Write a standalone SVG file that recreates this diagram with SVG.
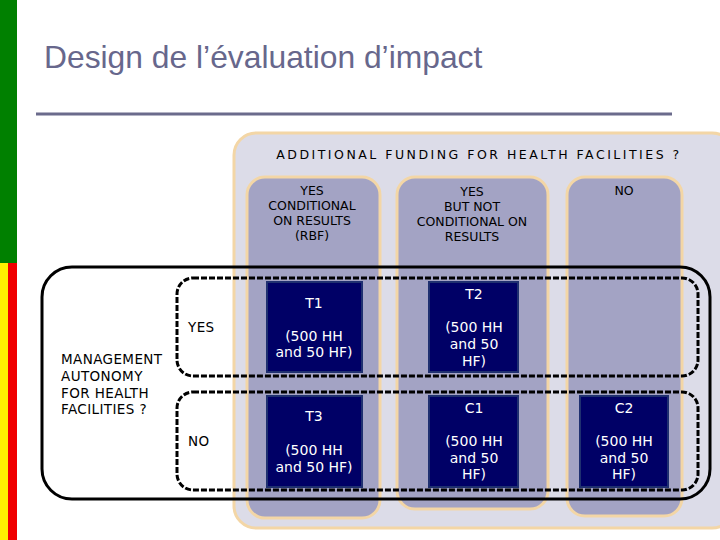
<svg xmlns="http://www.w3.org/2000/svg" width="720" height="540" viewBox="0 0 720 540">
<style>
.t{font-family:"DejaVu Sans",Verdana,sans-serif;font-size:12.5px;fill:#000}
.l{font-size:13.5px;letter-spacing:0.4px}
.w{font-family:"DejaVu Sans",Verdana,sans-serif;font-size:14px;fill:#fff;text-anchor:middle}
.c{text-anchor:middle}
.col{fill:#A3A3C4;stroke:#F3D6A6;stroke-width:3}
.box{fill:#000066;stroke:#1F3070;stroke-width:2}
.dash{fill:none;stroke:#000;stroke-width:3;stroke-dasharray:6 2}
</style>
<rect width="720" height="540" fill="#fff"/>
<rect x="0" y="0" width="17" height="263" fill="#008000"/>
<rect x="0" y="263" width="8" height="277" fill="#FFF200"/>
<rect x="8" y="263" width="9" height="277" fill="#F00000"/>
<text x="44" y="68" font-family="Liberation Sans,Arial,sans-serif" font-size="31.8" fill="#67678C">Design de l’évaluation d’impact</text>
<line x1="36" y1="114" x2="672" y2="114" stroke="#6B6B8C" stroke-width="3"/>
<g id="panel">
<rect x="234" y="133" width="500" height="395" rx="22" fill="#DCDCE8" stroke="#F3D6A6" stroke-width="3"/>
<text class="t c" x="479" y="159" font-size="15.5" letter-spacing="2.5">ADDITIONAL FUNDING FOR HEALTH FACILITIES ?</text>
</g>
<g id="col1">
<rect class="col" x="247" y="177" width="133" height="341" rx="18"/>
<text class="t c" x="312" y="195">YES</text>
<text class="t c" x="312" y="210">CONDITIONAL</text>
<text class="t c" x="312" y="225">ON RESULTS</text>
<text class="t c" x="312" y="240">(RBF)</text>
</g>
<g id="col2">
<rect class="col" x="397" y="177" width="151" height="332" rx="18"/>
<text class="t c" x="472" y="196">YES</text>
<text class="t c" x="472" y="211">BUT NOT</text>
<text class="t c" x="472" y="226">CONDITIONAL ON</text>
<text class="t c" x="472" y="241">RESULTS</text>
</g>
<g id="col3">
<rect class="col" x="567" y="177" width="115" height="339" rx="18"/>
<text class="t c" x="624" y="195">NO</text>
</g>
<g id="groups">
<rect x="42" y="267" width="668" height="232" rx="30" fill="none" stroke="#000" stroke-width="3"/>
<rect class="dash" x="177" y="278" width="521" height="98" rx="16"/>
<rect class="dash" x="177" y="392" width="521" height="98" rx="16"/>
</g>
<g id="rowlabels">
<text class="t l" x="61" y="364">MANAGEMENT</text>
<text class="t l" x="61" y="381">AUTONOMY</text>
<text class="t l" x="61" y="398">FOR HEALTH</text>
<text class="t l" x="61" y="414">FACILITIES ?</text>
<text class="t l" x="188" y="332">YES</text>
<text class="t l" x="188" y="446">NO</text>
</g>
<g id="T1">
<rect class="box" x="267" y="282" width="95" height="90"/>
<text class="w" x="314" y="308">T1</text>
<text class="w" x="314" y="341">(500 HH</text>
<text class="w" x="314" y="357">and 50 HF)</text>
</g>
<g id="T2">
<rect class="box" x="429" y="282" width="89" height="90"/>
<text class="w" x="474" y="299">T2</text>
<text class="w" x="474" y="332">(500 HH</text>
<text class="w" x="474" y="349">and 50</text>
<text class="w" x="474" y="366">HF)</text>
</g>
<g id="T3">
<rect class="box" x="267" y="396" width="95" height="91"/>
<text class="w" x="314" y="421">T3</text>
<text class="w" x="314" y="455">(500 HH</text>
<text class="w" x="314" y="472">and 50 HF)</text>
</g>
<g id="C1">
<rect class="box" x="429" y="396" width="89" height="91"/>
<text class="w" x="474" y="413">C1</text>
<text class="w" x="474" y="446">(500 HH</text>
<text class="w" x="474" y="463">and 50</text>
<text class="w" x="474" y="479">HF)</text>
</g>
<g id="C2">
<rect class="box" x="580" y="396" width="88" height="91"/>
<text class="w" x="624" y="413">C2</text>
<text class="w" x="624" y="446">(500 HH</text>
<text class="w" x="624" y="463">and 50</text>
<text class="w" x="624" y="479">HF)</text>
</g>
</svg>
